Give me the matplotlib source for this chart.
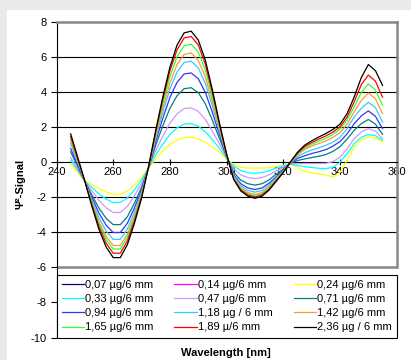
import matplotlib
matplotlib.use('Agg')
import matplotlib.pyplot as plt
from matplotlib.patches import Rectangle

plt.rcParams['font.family'] = ['Liberation Sans', 'DejaVu Sans']
plt.rcParams['axes.unicode_minus'] = False

# ---------------- data ----------------
wavelength = [245, 247.5, 250, 252.5, 255, 257.5, 260, 262.5, 265, 267.5, 270,
              272.5, 275, 277.5, 280, 282.5, 285, 287.5, 290, 292.5, 295, 297.5,
              300, 302.5, 305, 307.5, 310, 312.5, 315, 317.5, 320, 322.5, 325,
              327.5, 330, 332.5, 335, 337.5, 340, 342.5, 345, 347.5, 350, 352.5, 355]

series_labels = ["0,07 µg/6 mm", "0,14 µg/6 mm", "0,24 µg/6 mm",
                 "0,33 µg/6 mm", "0,47 µg/6 mm", "0,71 µg/6 mm",
                 "0,94 µg/6 mm", "1,18 µg / 6 mm", "1,42 µg/6 mm",
                 "1,65 µg/6 mm", "1,89 µ/6 mm", "2,36 µg / 6 mm"]

series_colors = ["#000080", "#FF00FF", "#FFFF00",
                 "#00FFFF", "#CC99FF", "#008080",
                 "#3333FF", "#33CCFF", "#FF9933",
                 "#33FF33", "#FF0000", "#000000"]

s_007 = []   # legend only, no curve visible
s_014 = []   # legend only, no curve visible
s_024 = [-0.1, -0.6, -1.1, -1.30, -1.52, -1.71, -1.84, -1.84, -1.65, -1.30, -0.87,
         -0.35, 0.19, 0.62, 0.99, 1.25, 1.39, 1.41, 1.32, 1.12, 0.85, 0.56,
         0.15, -0.15, -0.3, -0.35, -0.35, -0.35, -0.32, -0.25, -0.18, -0.1, -0.3,
         -0.52, -0.62, -0.68, -0.75, -0.85, -0.6, 0.1, 0.85, 1.25, 1.42, 1.38, 1.14]
s_033 = [0.1, -0.5, -1.1, -1.46, -1.82, -2.12, -2.31, -2.31, -2.05, -1.59, -1.02,
         -0.34, 0.40, 1.02, 1.56, 1.94, 2.16, 2.18, 2.04, 1.72, 1.27, 0.77,
         0.2, -0.23, -0.49, -0.61, -0.65, -0.61, -0.50, -0.35, -0.22, -0.12, -0.2,
         -0.27, -0.32, -0.36, -0.38, -0.3, -0.02, 0.48, 1.04, 1.4, 1.56, 1.5, 1.23]
s_047 = [0.25, -0.43, -1.1, -1.65, -2.19, -2.61, -2.88, -2.88, -2.53, -1.93, -1.21,
         -0.33, 0.64, 1.47, 2.21, 2.74, 3.04, 3.08, 2.88, 2.42, 1.75, 1.02,
         0.25, -0.39, -0.74, -0.89, -0.95, -0.89, -0.73, -0.51, -0.30, -0.1, -0.1,
         -0.09, -0.09, -0.09, -0.08, 0.02, 0.27, 0.75, 1.33, 1.7, 1.9, 1.75, 1.33]
s_071 = [0.57, -0.27, -1.1, -1.89, -2.64, -3.21, -3.57, -3.57, -3.12, -2.35, -1.44,
         -0.32, 0.95, 2.06, 3.05, 3.77, 4.17, 4.23, 3.95, 3.31, 2.37, 1.33,
         0.3, -0.59, -1.04, -1.24, -1.32, -1.24, -1.02, -0.70, -0.40, -0.08, 0.08,
         0.17, 0.25, 0.32, 0.42, 0.6, 0.87, 1.3, 1.8, 2.18, 2.42, 2.15, 1.57]
s_094 = [0.76, -0.17, -1.1, -2.04, -2.92, -3.60, -4.02, -4.02, -3.49, -2.62, -1.59,
         -0.31, 1.17, 2.49, 3.67, 4.53, 5.01, 5.07, 4.74, 3.96, 2.82, 1.56,
         0.33, -0.73, -1.24, -1.48, -1.57, -1.48, -1.21, -0.84, -0.47, -0.07, 0.2,
         0.35, 0.48, 0.58, 0.7, 0.9, 1.16, 1.6, 2.18, 2.62, 2.91, 2.6, 1.9]
s_118 = [1.04, -0.03, -1.1, -2.18, -3.18, -3.94, -4.41, -4.41, -3.83, -2.86, -1.72,
         -0.3, 1.35, 2.83, 4.15, 5.12, 5.66, 5.74, 5.36, 4.48, 3.18, 1.74,
         0.35, -0.81, -1.36, -1.62, -1.72, -1.62, -1.33, -0.91, -0.51, -0.06, 0.3,
         0.52, 0.68, 0.8, 0.95, 1.13, 1.4, 1.9, 2.56, 3.05, 3.4, 3.1, 2.27]
s_142 = [1.19, 0.05, -1.1, -2.30, -3.40, -4.24, -4.76, -4.76, -4.12, -3.07, -1.84,
         -0.29, 1.47, 3.07, 4.49, 5.54, 6.12, 6.21, 5.79, 4.84, 3.43, 1.86,
         0.38, -0.88, -1.47, -1.74, -1.85, -1.74, -1.43, -0.98, -0.54, -0.05, 0.4,
         0.7, 0.9, 1.05, 1.2, 1.4, 1.67, 2.15, 2.85, 3.5, 3.93, 3.6, 2.75]
s_165 = [1.33, 0.12, -1.1, -2.37, -3.53, -4.41, -4.96, -4.96, -4.29, -3.19, -1.90,
         -0.28, 1.61, 3.33, 4.86, 5.99, 6.62, 6.71, 6.27, 5.23, 3.70, 2.0,
         0.4, -0.92, -1.54, -1.82, -1.93, -1.82, -1.49, -1.03, -0.56, -0.04, 0.45,
         0.78, 1.0, 1.18, 1.35, 1.57, 1.87, 2.38, 3.14, 3.95, 4.44, 4.1, 3.22]
s_189 = [1.45, 0.18, -1.1, -2.45, -3.69, -4.63, -5.20, -5.20, -4.50, -3.34, -1.99,
         -0.27, 1.72, 3.55, 5.18, 6.38, 7.06, 7.15, 6.67, 5.57, 3.94, 2.12,
         0.42, -0.96, -1.59, -1.88, -2.0, -1.88, -1.55, -1.06, -0.58, -0.02, 0.5,
         0.87, 1.1, 1.3, 1.48, 1.7, 2.0, 2.55, 3.42, 4.4, 4.95, 4.6, 3.69]
s_236 = [1.6, 0.25, -1.1, -2.54, -3.85, -4.84, -5.45, -5.45, -4.71, -3.49, -2.07,
         -0.25, 1.8, 3.7, 5.4, 6.65, 7.35, 7.45, 6.95, 5.8, 4.1, 2.2,
         0.45, -1.0, -1.65, -1.95, -2.07, -1.95, -1.6, -1.1, -0.6, 0.0, 0.55,
         0.95, 1.2, 1.42, 1.62, 1.85, 2.15, 2.75, 3.7, 4.8, 5.55, 5.2, 4.36]

series_values = [s_007, s_014, s_024, s_033, s_047, s_071,
                 s_094, s_118, s_142, s_165, s_189, s_236]

x_ticks = [240, 260, 280, 300, 320, 340, 360]
y_ticks = [-10, -8, -6, -4, -2, 0, 2, 4, 6, 8]

# ---------------- figure ----------------
W, H = 411, 360
fig = plt.figure(figsize=(W / 100, H / 100), dpi=100, facecolor='#EAEAEA')
fig.patches.append(Rectangle((7 / W, 0), 1 - 7 / W, 350 / H, transform=fig.transFigure,
                             facecolor='white', edgecolor='none', zorder=-10))

ax = fig.add_axes([56.5 / W, 22.5 / H, 340.2 / W, 316 / H])
ax.set_zorder(1)
ax.set_facecolor('white')
ax.set_xlim(240, 360)
ax.set_ylim(-10, 8)

for yg in [-4, -2, 2, 4, 6]:
    ax.axhline(yg, color='black', lw=0.8, zorder=1)
ax.axhline(-6, color='#888888', lw=1.8, zorder=1)

handles = []
for vals, lab, col in zip(series_values, series_labels, series_colors):
    if vals:
        h, = ax.plot(wavelength, vals, color=col, lw=0.9, label=lab, zorder=3)
    else:
        h, = ax.plot([], [], color=col, lw=0.9, label=lab, zorder=3)
    handles.append(h)

ax.spines['left'].set_color('black')
ax.spines['left'].set_linewidth(0.8)
ax.spines['bottom'].set_position(('data', 0))
ax.spines['bottom'].set_color('black')
ax.spines['bottom'].set_linewidth(0.8)
ax.spines['top'].set_color('#888888')
ax.spines['top'].set_linewidth(1.8)
ax.spines['right'].set_color('#888888')
ax.spines['right'].set_linewidth(1.8)
ax.spines['right'].set_bounds(-6, 8)

ax.set_xticks(x_ticks)
ax.set_yticks(y_ticks)
ax.tick_params(axis='x', direction='inout', length=5, width=0.8, labelsize=8, pad=1)
ax.tick_params(axis='y', direction='out', length=4, width=0.8, labelsize=8, pad=3)

order = [0, 3, 6, 9, 1, 4, 7, 10, 2, 5, 8, 11]
leg = ax.legend([handles[i] for i in order], [series_labels[i] for i in order],
                loc='lower left', bbox_to_anchor=(0.0, 0.0, 1.0, 0.2), mode='expand',
                ncol=3, fontsize=8, frameon=True, fancybox=False, edgecolor='black',
                framealpha=1, borderaxespad=0, handlelength=2.0, handletextpad=0.1,
                labelspacing=0.38, borderpad=0.45)
leg.get_frame().set_linewidth(0.8)
leg.set_zorder(5)

fig.text(20.5 / W, 1 - 184 / H, 'Ψ²-Signal', rotation=90, ha='center', va='center',
         fontsize=8, fontweight='bold')
fig.text(226 / W, 1 - 353 / H, 'Wavelength [nm]', ha='center', va='center',
         fontsize=8, fontweight='bold')

fig.savefig('out.png', dpi=100, facecolor=fig.get_facecolor())
